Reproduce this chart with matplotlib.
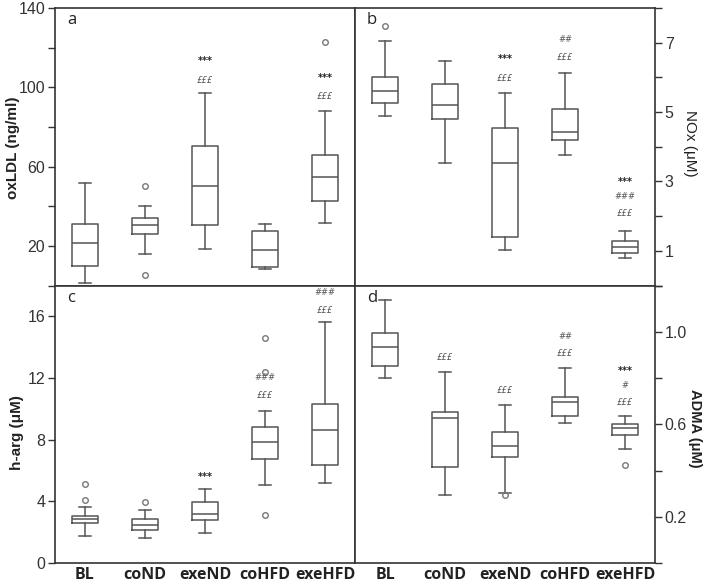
import matplotlib
matplotlib.use("Agg")
import matplotlib.pyplot as plt

# --- data ---
groups = ["BL", "coND", "exeND", "coHFD", "exeHFD"]

# a: oxLDL (ng/ml)
ox_lo = [1.3, 16.0, 18.5, 8.5, 31.5]
ox_q1 = [9.9, 26.1, 30.6, 9.5, 42.4]
ox_med = [21.5, 30.6, 50.0, 18.1, 54.9]
ox_q3 = [31.1, 34.3, 70.5, 27.4, 65.9]
ox_hi = [51.9, 39.9, 97.0, 31.0, 88.0]
ox_fl = [[], [50.0, 5.5], [], [], [123.0]]

# b: NOx (uM)
no_lo = [4.88, 3.53, 1.02, 3.75, 0.78]
no_q1 = [5.27, 4.79, 1.40, 4.19, 0.94]
no_med = [5.60, 5.21, 3.52, 4.43, 1.12]
no_q3 = [6.01, 5.82, 4.54, 5.10, 1.29]
no_hi = [7.04, 6.47, 5.56, 6.14, 1.58]
no_fl = [[7.47], [], [], [], []]

# c: h-arg (uM)
ha_lo = [1.78, 1.63, 1.95, 5.07, 5.20]
ha_q1 = [2.58, 2.12, 2.78, 6.74, 6.35]
ha_med = [2.86, 2.49, 3.21, 7.83, 8.61]
ha_q3 = [3.08, 2.88, 3.99, 8.80, 10.32]
ha_hi = [3.64, 3.43, 4.81, 9.89, 15.61]
ha_fl = [[5.14, 4.10], [3.99], [], [14.59, 12.42, 3.14], []]

# d: ADMA (uM)
ad_lo = [0.798, 0.296, 0.304, 0.604, 0.493]
ad_q1 = [0.852, 0.416, 0.458, 0.636, 0.554]
ad_med = [0.935, 0.626, 0.507, 0.697, 0.583]
ad_q3 = [0.996, 0.655, 0.565, 0.720, 0.603]
ad_hi = [1.136, 0.826, 0.685, 0.845, 0.635]
ad_fl = [[], [], [0.294], [], [0.425]]

# significance marks: (group index, y, text)
ox_marks = [(2, 113.3, "***"), (2, 103.4, "£££"), (4, 104.9, "***"), (4, 95.3, "£££")]
no_marks = [(2, 6.52, "***"), (2, 5.96, "£££"), (3, 7.10, "##"), (3, 6.57, "£££"),
            (4, 2.99, "***"), (4, 2.57, "###"), (4, 2.09, "£££")]
ha_marks = [(2, 5.59, "***"), (3, 12.03, "###"), (3, 10.84, "£££"),
            (4, 17.56, "###"), (4, 16.37, "£££")]
ad_marks = [(1, 0.890, "£££"), (2, 0.745, "£££"), (3, 0.981, "##"), (3, 0.904, "£££"),
            (4, 0.832, "***"), (4, 0.768, "#"), (4, 0.696, "£££")]

BOX_C = "#555555"
TXT_C = "#333333"

fig = plt.figure(figsize=(7.06, 5.86), dpi=100)
gs = fig.add_gridspec(2, 2, left=0.0779, right=0.9278, top=0.9863, bottom=0.0392,
                      hspace=0, wspace=0)
axa = fig.add_subplot(gs[0, 0])
axb = fig.add_subplot(gs[0, 1])
axc = fig.add_subplot(gs[1, 0])
axd = fig.add_subplot(gs[1, 1])


def draw(ax, lo, q1, med, q3, hi, fl, marks):
    stats = []
    for i in range(len(groups)):
        stats.append(dict(med=med[i], q1=q1[i], q3=q3[i], whislo=lo[i], whishi=hi[i],
                          fliers=fl[i], label=groups[i]))
    ax.bxp(stats, positions=range(1, 6), widths=0.42, showfliers=True,
           boxprops=dict(color=BOX_C, linewidth=1.1),
           medianprops=dict(color=BOX_C, linewidth=1.1),
           whiskerprops=dict(color=BOX_C, linewidth=1.1),
           capprops=dict(color=BOX_C, linewidth=1.1),
           flierprops=dict(marker="o", markersize=4, markerfacecolor="none",
                           markeredgecolor="#777777", markeredgewidth=1.0))
    for gi, y, t in marks:
        if t.startswith("*"):
            ax.text(gi + 1, y, t, ha="center", va="center", fontsize=7,
                    fontweight="bold", color="#222222", family="DejaVu Sans")
        else:
            ax.text(gi + 1, y, t, ha="center", va="center", fontsize=6,
                    style="italic", color="#555555", family="DejaVu Sans")
    ax.set_xlim(0.5, 5.5)
    for s in ax.spines.values():
        s.set_color("#333333")
        s.set_linewidth(1.2)
    ax.tick_params(axis="y", direction="out", length=5, width=1.0, color="#333333",
                   labelsize=11.5, labelcolor=TXT_C, pad=2)
    ax.tick_params(axis="x", length=0)


draw(axa, ox_lo, ox_q1, ox_med, ox_q3, ox_hi, ox_fl, ox_marks)
draw(axb, no_lo, no_q1, no_med, no_q3, no_hi, no_fl, no_marks)
draw(axc, ha_lo, ha_q1, ha_med, ha_q3, ha_hi, ha_fl, ha_marks)
draw(axd, ad_lo, ad_q1, ad_med, ad_q3, ad_hi, ad_fl, ad_marks)

# y scales
axa.set_ylim(0, 140)
axa.set_yticks(range(0, 141, 20))
axa.set_yticklabels(["", "20", "", "60", "", "100", "", "140"])

axb.set_ylim(0, 8)
axb.yaxis.tick_right()
axb.set_yticks(range(0, 9))
axb.set_yticklabels(["", "1", "", "3", "", "5", "", "7", ""])

axc.set_ylim(0, 18)
axc.set_yticks([0, 4, 8, 12, 16])
axc.set_yticklabels(["0", "4", "8", "12", "16"])

axd.set_ylim(0, 1.2)
axd.yaxis.tick_right()
axd.set_yticks([0, 0.2, 0.4, 0.6, 0.8, 1.0, 1.2])
axd.set_yticklabels(["", "0.2", "", "0.6", "", "1.0", ""])

for ax in (axa, axb, axc, axd):
    for lab in ax.get_yticklabels():
        lab.set_family("Liberation Sans")

for ax in (axa, axb):
    ax.set_xticklabels([])
for ax in (axc, axd):
    ax.set_xticks(range(1, 6))
    ax.set_xticklabels(groups, fontsize=11.5, fontweight="bold", family="Open Sans",
                       color="#222222")
    ax.tick_params(axis="x", pad=3)

# panel letters
for ax, letter in ((axa, "a"), (axb, "b"), (axc, "c"), (axd, "d")):
    ax.text(0.04, 0.985, letter, transform=ax.transAxes, ha="left", va="top",
            fontsize=12, family="Open Sans", color="#222222")

# axis titles
fig.text(13 / 706, 1 - 148 / 586, "oxLDL (ng/ml)", rotation=90, ha="center", va="center",
         fontsize=11, fontweight="bold", family="Liberation Sans", color="#222222")
fig.text(17 / 706, 1 - 433 / 586, "h-arg (μM)", rotation=90, ha="center", va="center",
         fontsize=11, fontweight="bold", family="Liberation Sans", color="#222222")
fig.text(690 / 706, 1 - 143 / 586, "NOx (μM)", rotation=270, ha="center", va="center",
         fontsize=11, family="Liberation Sans", color="#222222")
fig.text(695 / 706, 1 - 428 / 586, "ADMA (μM)", rotation=270, ha="center", va="center",
         fontsize=10.5, fontweight="bold", family="Liberation Sans", color="#222222")

fig.savefig("out.png", dpi=100)
